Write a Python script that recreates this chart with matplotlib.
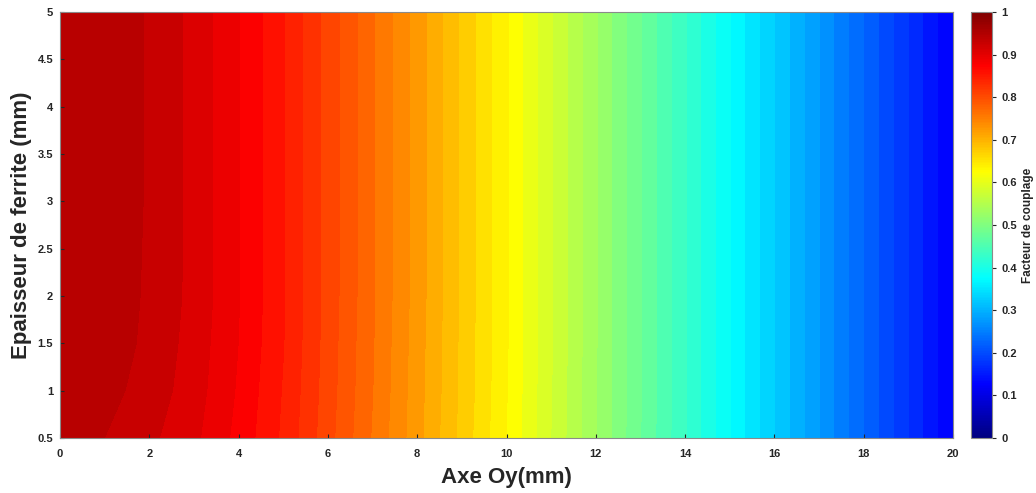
import numpy as np
import matplotlib
matplotlib.use("Agg")
import matplotlib.pyplot as plt
from matplotlib.colors import LinearSegmentedColormap, Normalize
from matplotlib.cm import ScalarMappable

# position along Oy (mm) and ferrite thickness (mm)
x_mm = [0, 1, 2, 3, 4, 5, 6, 7, 8, 9, 10, 11, 12, 13, 14, 15, 16, 17, 18, 19, 20]
ep_mm = [0.5, 1.0, 1.5, 2.0, 3.0, 5.0]

# coupling factor, one row per thickness
k_05 = [0.938, 0.935, 0.922, 0.905, 0.879, 0.847, 0.806, 0.764, 0.721, 0.675, 0.630,
        0.579, 0.529, 0.478, 0.428, 0.377, 0.326, 0.275, 0.224, 0.173, 0.122]
k_10 = [0.945, 0.941, 0.928, 0.909, 0.882, 0.849, 0.808, 0.766, 0.722, 0.677, 0.631,
        0.580, 0.529, 0.479, 0.428, 0.377, 0.326, 0.275, 0.224, 0.173, 0.122]
k_15 = [0.949, 0.945, 0.931, 0.911, 0.884, 0.851, 0.809, 0.767, 0.723, 0.677, 0.632,
        0.581, 0.530, 0.479, 0.428, 0.377, 0.326, 0.275, 0.224, 0.173, 0.122]
k_20 = [0.951, 0.947, 0.932, 0.913, 0.885, 0.852, 0.810, 0.768, 0.724, 0.678, 0.632,
        0.581, 0.530, 0.479, 0.428, 0.377, 0.326, 0.275, 0.224, 0.173, 0.122]
k_30 = [0.952, 0.948, 0.933, 0.913, 0.885, 0.852, 0.810, 0.768, 0.724, 0.678, 0.632,
        0.581, 0.530, 0.479, 0.428, 0.377, 0.326, 0.275, 0.224, 0.173, 0.122]
k_50 = [0.952, 0.948, 0.933, 0.913, 0.885, 0.852, 0.810, 0.768, 0.724, 0.678, 0.632,
        0.581, 0.530, 0.479, 0.428, 0.377, 0.326, 0.275, 0.224, 0.173, 0.122]

x_ticks = [0, 2, 4, 6, 8, 10, 12, 14, 16, 18, 20]
y_ticks = [0.5, 1, 1.5, 2, 2.5, 3, 3.5, 4, 4.5, 5]
cb_ticks = [0, 0.1, 0.2, 0.3, 0.4, 0.5, 0.6, 0.7, 0.8, 0.9, 1]

plt.rcParams['font.family'] = ['Liberation Sans', 'DejaVu Sans']
plt.rcParams['font.weight'] = 'bold'

# MATLAB style jet
jet_m = LinearSegmentedColormap('jet_m', {
    'red':   [(0, 0, 0), (0.375, 0, 0), (0.625, 1, 1), (0.875, 1, 1), (1, 0.5, 0.5)],
    'green': [(0, 0, 0), (0.125, 0, 0), (0.375, 1, 1), (0.625, 1, 1), (0.875, 0, 0), (1, 0, 0)],
    'blue':  [(0, 0.5, 0.5), (0.125, 1, 1), (0.375, 1, 1), (0.625, 0, 0), (1, 0, 0)],
}, N=256)

K = np.array([k_05, k_10, k_15, k_20, k_30, k_50])
X, Y = np.meshgrid(x_mm, ep_mm)
levels = np.linspace(K.min(), K.max(), 50)
norm = Normalize(0, 1)

fig = plt.figure(figsize=(10.36, 4.93), dpi=100)
ax = fig.add_axes([60 / 1036, 55 / 493, 893 / 1036, 426 / 493])
cax = fig.add_axes([971 / 1036, 55 / 493, 21 / 1036, 426 / 493])

ax.contourf(X, Y, K, levels=levels, cmap=jet_m, norm=norm, antialiased=False)
ax.set_xlim(0, 20)
ax.set_ylim(0.5, 5)
ax.set_xticks(x_ticks)
ax.set_yticks(y_ticks)
ax.set_yticklabels(['%g' % v for v in y_ticks])
ax.tick_params(direction='in', length=3, labelsize=8, colors='#262626')
ax.tick_params(axis='x', pad=8)
ax.tick_params(axis='y', pad=5)
for s in ax.spines.values():
    s.set_color('#8a8a8a')
    s.set_linewidth(0.8)
ax.set_xlabel('Axe Oy(mm)', fontsize=16, fontweight='bold', color='#262626', labelpad=6)
ax.set_ylabel('Epaisseur de ferrite (mm)', fontsize=16, fontweight='bold', color='#262626', labelpad=4)

cb = fig.colorbar(ScalarMappable(norm=norm, cmap=jet_m), cax=cax, ticks=cb_ticks)
cb.ax.set_yticklabels(['%g' % v for v in cb_ticks])
cb.ax.tick_params(direction='out', length=3, labelsize=8, colors='#262626')
cb.outline.set_edgecolor('#8a8a8a')
cb.set_label('Facteur de couplage', fontsize=8.5, fontweight='bold', color='#262626', labelpad=4)

fig.savefig('out.png', dpi=100)
